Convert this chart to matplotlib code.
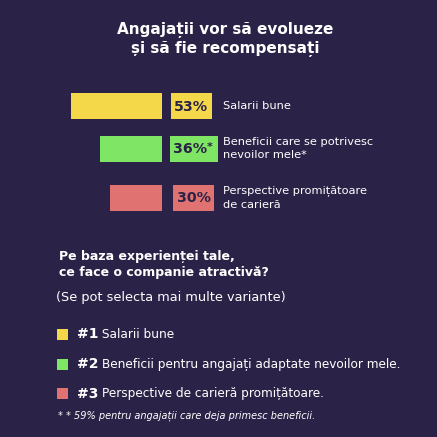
import matplotlib
matplotlib.use("Agg")
import matplotlib.pyplot as plt
from matplotlib.patches import Rectangle

# ---- data ----
categories = ["Salarii bune", "Beneficii care se potrivesc\nnevoilor mele*",
              "Perspective promițătoare\nde carieră"]
values = [53, 36, 30]
value_labels = ["53%", "36%*", "30%"]
colors = ["#f5d84a", "#7fe565", "#e07272"]
ranks = ["#1", "#2", "#3"]
legend_texts = ["Salarii bune", "Beneficii pentru angajați adaptate nevoilor mele.",
                "Perspective de carieră promițătoare."]
title = "Angajații vor să evolueze\nși să fie recompensați"
question = "Pe baza experienței tale,\nce face o companie atractivă?"
subnote = "(Se pot selecta mai multe variante)"
footnote = "* * 59% pentru angajații care deja primesc beneficii."

BG = "#2a2347"
DARK = "#2a2347"
W = H = 437
fig = plt.figure(figsize=(4.37, 4.37), dpi=100, facecolor=BG)

ax = fig.add_axes([0, 0, 1, 1])
ax.set_xlim(0, W)
ax.set_ylim(H, 0)
ax.axis("off")

FONT = "DejaVu Sans"

ax.text(225, 39.5, title, ha="center", va="center", color="white",
        fontsize=11.0, fontweight="bold", family=FONT, linespacing=1.32)

# bar axes: value 0 at x=162 px, bars extend left
scale = 1.73
left_px, right_px = 50, 162.3
top_px, bot_px = 85, 220
bax = fig.add_axes([left_px / W, 1 - bot_px / H, (right_px - left_px) / W, (bot_px - top_px) / H])
bax.set_xlim((right_px - left_px) / scale, 0)
bax.set_ylim(bot_px, top_px)
bax.axis("off")
bar_centers = [106.2, 148.7, 197.8]
bar_h = 25.8
bax.barh(bar_centers, values, height=bar_h, color=colors)

box_x = [(171, 211.7), (170.3, 218.3), (173.3, 214)]
for (x0, x1), yc, lab, col, cat in zip(box_x, bar_centers, value_labels, colors, categories):
    ax.add_patch(Rectangle((x0, yc - bar_h / 2), x1 - x0, bar_h, facecolor=col,
                           edgecolor="none", zorder=2))
    if lab.endswith("*"):
        t = ax.text(x0 + 2.5, yc + 0.5, lab[:-1], ha="left", va="center",
                    color=DARK, fontsize=10.3, fontweight="bold", family=FONT, zorder=3)
        ax.annotate("*", xycoords=t, xy=(1, 1), ha="left", va="top",
                    color=DARK, fontsize=8, fontweight="bold", family=FONT, zorder=3)
    else:
        ax.text((x0 + x1) / 2, yc + 0.5, lab, ha="center", va="center",
                color=DARK, fontsize=10.3, fontweight="bold", family=FONT, zorder=3)
    ax.text(223, yc, cat, ha="left", va="center", color="white",
            fontsize=8.2, family=FONT, linespacing=1.45)

ax.text(59, 264.5, question, ha="left", va="center", color="white",
        fontsize=9.0, fontweight="bold", family=FONT, linespacing=1.3)
ax.text(56.5, 297, subnote, ha="left", va="center", color="white",
        fontsize=9.3, family=FONT)

leg_y = [334.5, 364.5, 393.5]
for y, col, rk, txt in zip(leg_y, colors, ranks, legend_texts):
    ax.add_patch(Rectangle((56.5, y - 5.5), 11, 11, facecolor=col, edgecolor="none"))
    t = ax.text(76.5, y, rk, ha="left", va="center", color="white",
                fontsize=10, fontweight="bold", family=FONT)
    ax.annotate(" " + txt, xycoords=t, xy=(1, 0.5), va="center", ha="left",
                color="white", fontsize=8.7, family=FONT)

ax.text(58, 415.5, footnote, ha="left", va="center", color="white",
        fontsize=7.0, style="italic", family=FONT)

fig.savefig("out.png", dpi=100, facecolor=BG)
